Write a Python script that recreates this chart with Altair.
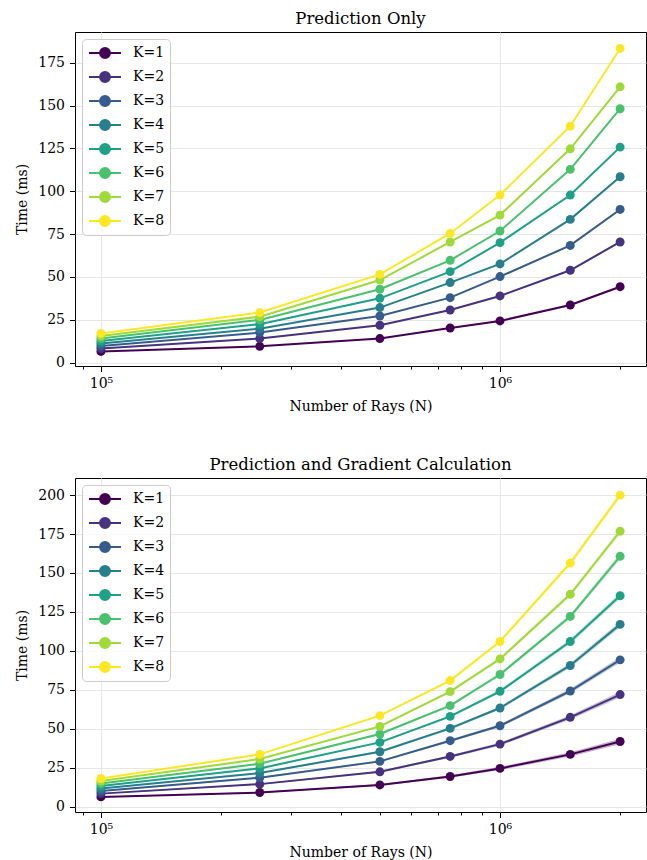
import altair as alt
import pandas as pd

# ---- data ----
x_vals = [100000, 250000, 500000, 750000, 1000000, 1500000, 2000000]
k_labels = ["K=1", "K=2", "K=3", "K=4", "K=5", "K=6", "K=7", "K=8"]
colors = ["#440154", "#46327e", "#365c8d", "#277f8e", "#1fa187", "#4ac16d", "#a0da39", "#fde725"]

pred_k1 = [6.5, 9.5, 14.0, 20.2, 24.3, 33.6, 44.3]
pred_k2 = [8.2, 14.0, 21.8, 30.7, 38.9, 53.9, 70.4]
pred_k3 = [9.7, 17.5, 27.2, 37.9, 50.2, 68.4, 89.4]
pred_k4 = [11.2, 19.8, 32.1, 46.7, 57.6, 83.6, 108.5]
pred_k5 = [12.6, 22.4, 37.5, 53.1, 70.0, 97.8, 125.8]
pred_k6 = [14.0, 24.9, 42.8, 59.7, 76.8, 112.8, 148.2]
pred_k7 = [15.5, 26.8, 48.2, 70.4, 86.1, 124.8, 161.0]
pred_k8 = [17.0, 29.2, 51.5, 75.4, 97.8, 138.0, 183.4]

grad_k1 = [6.2, 9.0, 13.9, 19.3, 24.5, 33.5, 41.8]
grad_k2 = [8.3, 14.4, 22.3, 32.2, 40.1, 57.3, 71.9]
grad_k3 = [10.0, 18.5, 29.0, 42.3, 51.9, 74.2, 94.2]
grad_k4 = [11.6, 21.5, 35.2, 50.2, 63.3, 90.6, 117.0]
grad_k5 = [13.2, 24.5, 41.2, 57.9, 74.0, 106.0, 135.4]
grad_k6 = [14.8, 27.5, 46.6, 64.8, 84.8, 122.1, 160.7]
grad_k7 = [16.4, 30.5, 51.5, 73.8, 94.8, 136.3, 176.8]
grad_k8 = [18.0, 33.5, 58.4, 80.9, 106.0, 156.4, 200.0]

# half-width of the shaded spread band (ms) at each N
pred_spread = [0.1, 0.15, 0.2, 0.3, 0.4, 0.5, 0.6]
grad_spread = [0.3, 0.4, 0.6, 0.8, 1.0, 1.4, 1.8]

pred_series = [pred_k1, pred_k2, pred_k3, pred_k4, pred_k5, pred_k6, pred_k7, pred_k8]
grad_series = [grad_k1, grad_k2, grad_k3, grad_k4, grad_k5, grad_k6, grad_k7, grad_k8]

x_ticks = [90000, 100000, 200000, 300000, 400000, 500000, 600000, 700000, 800000, 900000,
           1000000, 2000000]


def make_df(series, spread):
    rows = []
    for k, vals in zip(k_labels, series):
        for x, y, s in zip(x_vals, vals, spread):
            rows.append({"N": x, "K": k, "t": y, "lo": y - s, "hi": y + s})
    return pd.DataFrame(rows)


FONT = "DejaVu Serif"
MAJOR = "datum.value == 100000 || datum.value == 1000000"
SYMBOL = "M-2,0L2,0M-0.62,0A0.62,0.62,0,1,0,0.62,0A0.62,0.62,0,1,0,-0.62,0Z"


def panel(df, title, ydomain, yticks):
    x = alt.X(
        "N:Q",
        scale=alt.Scale(type="log", domain=[86100, 2322000], nice=False),
        axis=alt.Axis(
            title="Number of Rays (N)",
            values=x_ticks,
            labelExpr="datum.value == 100000 ? '10⁵' : (datum.value == 1000000 ? '10⁶' : '')",
            tickSize={"condition": {"test": MAJOR, "value": 5.5}, "value": 3},
            gridOpacity={"condition": {"test": MAJOR, "value": 1}, "value": 0},
            labelFlush=False,
            labelOverlap=False,
            titlePadding=9,
        ),
    )
    y = alt.Y(
        "t:Q",
        scale=alt.Scale(domain=ydomain, nice=False, zero=False),
        axis=alt.Axis(title="Time (ms)", values=yticks, titlePadding=8),
    )
    legend = alt.Legend(
        title=None,
        orient="top-left",
        offset=7,
        symbolType=SYMBOL,
        symbolSize=256,
        symbolStrokeWidth=2,
        symbolOffset=9,
        labelFont=FONT,
        labelFontSize=14,
        labelColor="black",
        labelOffset=19,
        rowPadding=6,
        padding=5,
        fillColor="rgba(255,255,255,0.8)",
        strokeColor="#cccccc",
        cornerRadius=4,
    )
    color = alt.Color("K:N", scale=alt.Scale(domain=k_labels, range=colors), legend=legend)
    base = alt.Chart(df)
    band = base.mark_area(opacity=0.3).encode(
        x=x, y="lo:Q", y2="hi:Q",
        fill=alt.Fill("K:N", scale=alt.Scale(domain=k_labels, range=colors), legend=None),
    )
    line = base.mark_line(strokeWidth=2).encode(x=x, y=y, color=color)
    pts = base.mark_circle(size=80, opacity=1).encode(x=x, y=y, color=color)
    return alt.layer(band, line, pts).properties(
        width=571,
        height=334,
        title=alt.TitleParams(
            title, font=FONT, fontSize=16.5, fontWeight="normal", color="black", offset=5
        ),
    )


top = panel(make_df(pred_series, pred_spread), "Prediction Only", [-2.0, 193.0],
            [0, 25, 50, 75, 100, 125, 150, 175])
bottom = panel(make_df(grad_series, grad_spread), "Prediction and Gradient Calculation",
               [-3.5, 211.0], [0, 25, 50, 75, 100, 125, 150, 175, 200])

chart = (
    alt.vconcat(top, bottom, spacing=42)
    .resolve_legend(color="independent")
    .properties(padding={"left": 15, "top": 10, "right": 0, "bottom": 0}, background="white")
    .configure_view(stroke="black", strokeWidth=1)
    .configure_axis(
        domain=False,
        labelFont=FONT,
        labelFontSize=14,
        labelColor="black",
        titleFont=FONT,
        titleFontSize=14,
        titleFontWeight="normal",
        titleColor="black",
        tickColor="black",
        tickSize=5.5,
        labelPadding=5,
        gridColor="#e6e6e6",
        gridWidth=1,
    )
)

chart.save("out.html", embed_options={"renderer": "svg", "actions": False})
